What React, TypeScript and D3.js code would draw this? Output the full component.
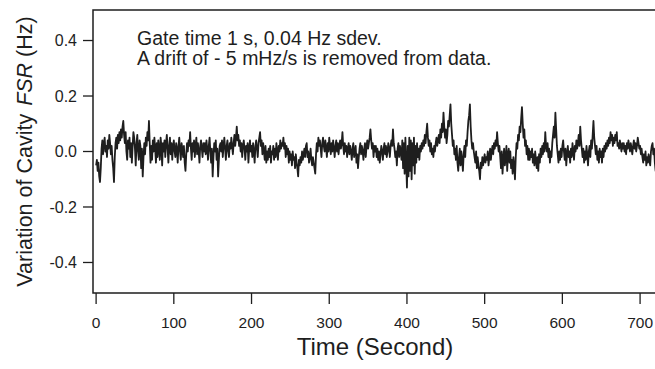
import React from "react";
import * as d3 from "d3";

// Variation of cavity FSR (Hz), one reading per gate (1 s), starting at t = 0 s
const gateSeconds = 1;
const startTime = 0;
const fsrVariation: number[] = [
  -0.05, -0.03, -0.07, -0.04, -0.09, -0.11, -0.06, 0.01, 0.04, -0.01, 0.03, 0.05, 0.00, 0.02, -0.02, 0.04, 0.01, 0.06, 0.03, -0.01,
  0.02, -0.03, -0.06, -0.11, -0.02, 0.03, 0.05, 0.01, 0.06, 0.03, 0.07, 0.04, 0.08, 0.05, 0.09, 0.11, 0.06, 0.03, 0.07, 0.00,
  -0.03, 0.04, 0.01, 0.05, -0.02, 0.03, -0.04, 0.02, 0.07, 0.05, 0.01, -0.05, 0.03, 0.06, 0.00, -0.03, 0.04, 0.02, -0.06, 0.01,
  -0.09, -0.02, 0.03, -0.01, 0.05, 0.02, 0.07, 0.04, 0.11, 0.03, -0.04, 0.02, -0.03, 0.04, 0.00, 0.05, 0.01, -0.04, 0.03, -0.02,
  0.04, 0.01, -0.03, 0.05, 0.02, -0.05, 0.03, 0.00, 0.04, -0.02, 0.03, 0.06, 0.01, -0.04, 0.02, 0.05, -0.01, 0.03, -0.03, 0.02,
  0.04, 0.00, -0.02, 0.03, 0.01, -0.04, 0.02, 0.05, 0.00, -0.03, 0.03, 0.01, -0.02, 0.02, -0.04, -0.07, -0.01, 0.03, 0.00, 0.04,
  0.02, 0.07, 0.01, -0.03, 0.03, 0.00, 0.04, -0.02, 0.02, 0.05, -0.01, 0.03, 0.00, -0.04, 0.02, 0.04, 0.01, -0.02, 0.03, 0.00,
  0.03, -0.01, 0.04, 0.01, -0.03, 0.02, 0.05, 0.00, -0.04, 0.01, -0.09, -0.02, 0.03, 0.00, 0.04, -0.03, 0.01, -0.09, -0.03, 0.02,
  0.03, 0.00, 0.04, -0.02, 0.02, 0.05, 0.01, -0.03, 0.02, 0.04, 0.00, -0.02, 0.03, 0.01, 0.05, 0.02, -0.01, 0.03, 0.06, 0.02,
  0.05, 0.09, 0.04, 0.06, 0.02, 0.04, 0.00, 0.03, -0.02, 0.02, 0.04, 0.01, -0.03, 0.02, 0.00, 0.03, -0.04, 0.01, 0.04, 0.00,
  0.02, -0.02, 0.03, 0.00, -0.04, 0.02, 0.04, 0.01, -0.02, 0.03, 0.05, 0.07, 0.02, 0.04, -0.01, 0.03, 0.00, -0.03, 0.02, -0.04,
  0.00, -0.03, 0.01, -0.02, 0.02, -0.04, 0.00, -0.01, 0.02, -0.03, 0.01, -0.02, 0.03, 0.00, -0.03, 0.02, 0.00, 0.04, 0.01, 0.03,
  0.02, 0.05, 0.01, 0.03, -0.02, 0.02, -0.01, 0.01, -0.04, 0.00, -0.03, -0.01, -0.05, 0.00, -0.03, -0.02, -0.06, -0.01, -0.04, -0.06,
  -0.09, -0.03, -0.05, -0.02, -0.04, 0.00, -0.03, -0.01, 0.01, -0.02, 0.02, 0.03, -0.02, 0.00, -0.04, -0.02, 0.01, -0.03, -0.05, -0.02,
  -0.04, -0.06, -0.08, -0.01, 0.03, 0.00, 0.05, 0.02, 0.04, 0.01, -0.02, 0.03, 0.05, 0.02, 0.00, 0.04, 0.01, -0.02, 0.03, 0.00,
  0.05, 0.02, -0.01, 0.03, 0.00, 0.04, 0.01, -0.02, 0.02, 0.04, 0.00, 0.03, -0.01, 0.02, 0.04, 0.01, 0.03, 0.07, 0.02, -0.01,
  0.03, 0.00, 0.02, -0.02, 0.01, 0.03, -0.01, 0.02, 0.00, -0.03, 0.01, 0.03, -0.02, 0.00, 0.02, -0.04, -0.01, -0.06, -0.02, 0.01,
  0.03, -0.01, 0.02, 0.00, -0.03, 0.01, 0.03, -0.02, 0.02, 0.04, 0.01, 0.03, 0.05, 0.08, 0.04, 0.01, 0.03, -0.02, 0.02, 0.00,
  0.02, -0.02, 0.01, -0.03, 0.00, -0.04, -0.01, 0.02, 0.00, -0.03, 0.01, 0.03, -0.01, 0.02, -0.02, 0.00, 0.03, 0.01, -0.02, 0.02,
  0.04, 0.02, 0.08, 0.03, 0.01, -0.02, 0.00, -0.05, 0.01, 0.03, -0.02, 0.02, 0.00, -0.03, 0.04, -0.06, 0.03, -0.08, 0.05, -0.04,
  -0.13, 0.02, -0.09, 0.05, -0.07, 0.04, -0.10, 0.03, -0.05, 0.05, -0.08, 0.02, -0.04, 0.03, -0.02, 0.01, -0.03, 0.02, 0.00, 0.03,
  0.01, 0.04, 0.02, 0.06, 0.03, 0.07, 0.10, 0.05, 0.02, 0.04, 0.00, 0.03, -0.01, 0.01, -0.02, 0.02, 0.00, 0.03, 0.05, 0.02,
  0.04, 0.06, 0.03, 0.08, 0.05, 0.10, 0.07, 0.14, 0.09, 0.05, 0.08, 0.03, 0.06, 0.11, 0.09, 0.13, 0.17, 0.10, 0.06, 0.02,
  0.04, -0.01, 0.01, -0.03, 0.02, -0.04, -0.07, -0.02, 0.01, -0.05, 0.00, -0.03, -0.07, -0.01, 0.02, -0.02, 0.04, 0.02, 0.07, 0.11,
  0.13, 0.17, 0.09, 0.04, 0.01, 0.03, 0.00, -0.02, -0.04, 0.00, -0.06, -0.02, -0.05, -0.07, -0.10, -0.04, -0.06, -0.02, -0.05, -0.03,
  -0.01, -0.04, -0.02, -0.03, 0.00, -0.05, -0.02, 0.01, -0.03, 0.00, 0.02, -0.01, 0.03, 0.01, 0.04, 0.02, 0.07, 0.03, 0.00, 0.02,
  -0.02, -0.06, 0.00, -0.08, -0.03, 0.01, -0.05, -0.02, 0.02, -0.07, -0.01, 0.01, -0.04, 0.00, -0.06, -0.03, -0.08, -0.02, -0.05, -0.10,
  -0.02, 0.03, 0.01, 0.06, 0.04, 0.09, 0.07, 0.12, 0.16, 0.10, 0.05, 0.08, 0.02, 0.04, -0.01, 0.02, -0.03, 0.01, -0.03, 0.00,
  -0.02, 0.01, -0.04, -0.01, -0.05, 0.00, -0.03, -0.06, -0.02, -0.07, -0.01, -0.04, 0.01, -0.02, 0.02, -0.01, 0.03, 0.00, 0.07, 0.02,
  0.00, 0.03, -0.02, 0.01, -0.04, 0.00, -0.02, 0.03, 0.06, 0.09, 0.05, 0.14, 0.08, 0.02, -0.01, -0.04, 0.00, -0.03, 0.01, -0.02,
  0.02, 0.04, 0.00, -0.03, 0.01, -0.05, -0.01, 0.02, -0.02, 0.00, -0.04, 0.01, -0.02, 0.03, 0.00, -0.03, 0.02, 0.00, 0.04, 0.01,
  0.03, 0.06, 0.02, 0.09, 0.04, 0.01, -0.02, 0.01, -0.04, 0.00, -0.03, 0.02, -0.01, -0.05, 0.00, 0.02, -0.02, 0.04, 0.01, 0.06,
  0.11, 0.05, 0.02, -0.01, 0.02, -0.03, 0.00, -0.04, 0.01, -0.02, 0.00, -0.04, 0.01, -0.02, 0.02, 0.00, 0.03, 0.01, 0.04, 0.02,
  0.05, 0.03, 0.07, 0.04, 0.06, 0.02, 0.05, 0.03, 0.06, 0.04, 0.07, 0.02, 0.03, 0.01, 0.04, 0.02, 0.00, 0.03, 0.01, 0.03,
  0.00, 0.02, -0.01, 0.03, 0.01, 0.04, 0.02, 0.00, 0.03, 0.01, -0.01, 0.02, 0.04, 0.01, 0.03, 0.00, 0.02, 0.05, 0.03, 0.01,
  0.02, -0.01, 0.01, -0.02, -0.04, -0.01, -0.03, 0.00, -0.05, -0.02, -0.04, -0.01, -0.03, -0.05, 0.00, 0.02, 0.03, -0.01, 0.01, -0.04,
  -0.07, -0.03, -0.05,
];

const xTicks = [0, 100, 200, 300, 400, 500, 600, 700];
const yTicks = [-0.4, -0.2, 0.0, 0.2, 0.4];
const xDomain = [-4, 730];
const yDomain = [-0.51, 0.51];

const annotationLines = [
  "Gate time 1 s, 0.04 Hz sdev.",
  "A drift of - 5 mHz/s is removed from data.",
];
const xTitle = "Time (Second)";

const W = 655;
const H = 369;
const left = 93;
const right = 663.4;
const top = 10;
const bottom = 293;
const FONT = "'Liberation Sans', Arial, Helvetica, sans-serif";
const INK = "#1e1e1e";

export default function App() {
  const x = d3.scaleLinear().domain(xDomain).range([left, right]);
  const y = d3.scaleLinear().domain(yDomain).range([bottom, top]);
  const line = d3
    .line<number>()
    .x((_, i) => x(startTime + i * gateSeconds))
    .y((d) => y(d));

  return (
    <svg
      width={W}
      height={H}
      style={{ position: "absolute", left: 0, top: 0, background: "#fff" }}
      fontFamily={FONT}
    >
      <defs>
        <clipPath id="plotclip">
          <rect x={left} y={top} width={right - left} height={bottom - top} />
        </clipPath>
      </defs>

      {/* data trace */}
      <path
        d={line(fsrVariation) || ""}
        fill="none"
        stroke={INK}
        strokeWidth={1.8}
        strokeLinejoin="round"
        clipPath="url(#plotclip)"
      />

      {/* frame */}
      <path
        d={`M${right},${top}H${left}V${bottom}H${right}V${top}`}
        fill="none"
        stroke={INK}
        strokeWidth={1.5}
      />

      {/* y axis ticks */}
      {yTicks.map((t) => (
        <g key={"y" + t}>
          <line x1={left - 10} x2={left} y1={y(t)} y2={y(t)} stroke={INK} strokeWidth={1.3} />
          <text
            x={left - 16}
            y={y(t)}
            dy="0.35em"
            textAnchor="end"
            fontSize={16}
            fill={INK}
          >
            {d3.format(".1f")(t).replace("−", "-")}
          </text>
        </g>
      ))}

      {/* x axis ticks */}
      {xTicks.map((t) => (
        <g key={"x" + t}>
          <line x1={x(t)} x2={x(t)} y1={bottom} y2={bottom + 11} stroke={INK} strokeWidth={1.3} />
          <text x={x(t)} y={328} textAnchor="middle" fontSize={15.5} fill={INK}>
            {t}
          </text>
        </g>
      ))}

      {/* axis titles */}
      <text x={375} y={355} textAnchor="middle" fontSize={24} fill={INK}>
        {xTitle}
      </text>
      <text
        transform={`translate(32,${(top + bottom) / 2}) rotate(-90)`}
        textAnchor="middle"
        fontSize={21.5}
        fill={INK}
      >
        <tspan>Variation of Cavity</tspan>
        <tspan dx={8} fontStyle="italic">FSR</tspan>
        <tspan> (Hz)</tspan>
      </text>

      {/* annotation */}
      {annotationLines.map((s, i) => (
        <text key={i} x={137} y={45 + i * 20} fontSize={19.5} fill={INK}>
          {s}
        </text>
      ))}
    </svg>
  );
}
